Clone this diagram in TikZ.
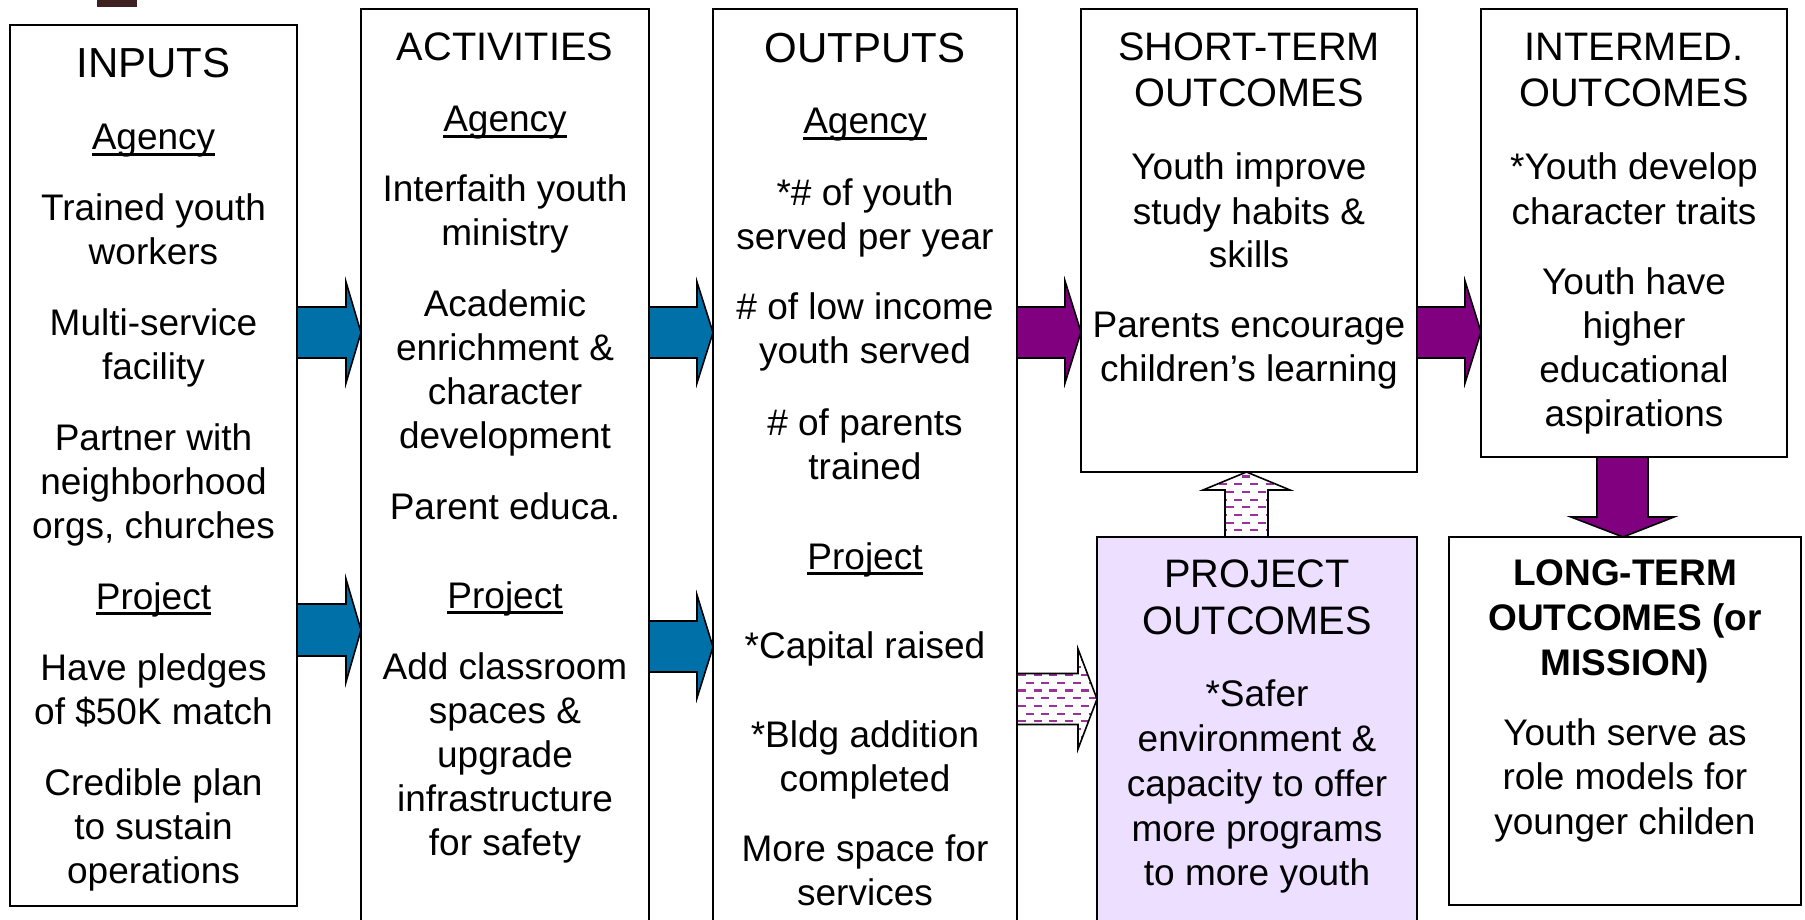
\documentclass[tikz,border=0pt]{standalone}
\usepackage{fontspec}
\setmainfont{Liberation Sans}
\usetikzlibrary{fit}
\definecolor{arrblue}{RGB}{0,112,168}
\definecolor{arrpurple}{RGB}{128,0,128}
\definecolor{dashpurple}{RGB}{153,51,153}
\definecolor{lavender}{RGB}{237,223,255}
\definecolor{darkbrown}{RGB}{62,32,32}
\newcommand\ulw[1]{\setbox0\hbox{#1}\rlap{\rule[-4.2pt]{\wd0}{1.6pt}}\box0}
\tikzset{
  box/.style={draw=black, line width=1.2pt, fill=white, inner sep=0pt, outer sep=0pt},
  body/.style={anchor=base, inner sep=0pt, font=\fontsize{27.75pt}{33.2pt}\selectfont},
  ttlbig/.style={anchor=base, inner sep=0pt, font=\fontsize{31.5pt}{37pt}\selectfont},
  ttl/.style={anchor=base, inner sep=0pt, font=\fontsize{29.8pt}{36pt}\selectfont},
  bttl/.style={anchor=base, inner sep=0pt, font=\fontsize{27.75pt}{33.2pt}\selectfont\bfseries},
  barrow/.style={fill=arrblue, draw=black, line width=1.2pt, line join=miter},
  parrow/.style={fill=arrpurple, draw=black, line width=1.2pt, line join=miter},
  darrow/.style={draw=black, line width=1.2pt, line join=miter},
  dashrow/.style={draw=dashpurple, line width=1.6pt, dash pattern=on 6pt off 5.8pt}
}
\begin{document}
\begin{tikzpicture}[x=0.75pt,y=-0.75pt]
\useasboundingbox (0,0) rectangle (1805,920);
\clip (0,0) rectangle (1805,920);

% small dark mark at top
\fill[darkbrown] (97,-2) rectangle (137,7);

% boxes
\node[box, fit={(10,25)(297,906)}] (inp) {};
\node[box, fit={(361,9)(649,935)}] (act) {};
\node[box, fit={(713,9)(1017,935)}] (out) {};
\node[box, fit={(1081,9)(1417,472)}] (st) {};
\node[box, fit={(1481,9)(1787,457)}] (im) {};
\node[box, fill=lavender, fit={(1097,537)(1417,935)}] (po) {};
\node[box, fit={(1449,537)(1801,905)}] (lt) {};

% INPUTS
\node[ttlbig] (inpT) at (153.5,78) {INPUTS};
\foreach \y/\t [count=\i] in {150/{\ulw{Agency}}, 220/{Trained youth}, 264/{workers},
  335/{Multi-service}, 379/{facility}, 450/{Partner with}, 494/{neighborhood},
  538/{orgs, churches}, 609/{\ulw{Project}}, 680/{Have pledges}, 724/{of \$50K match},
  795/{Credible plan}, 839/{to sustain}, 883/{operations}}
  \node[body] (inp\i) at (153.5,\y) {\t};

% ACTIVITIES
\node[ttl] (actT) at (505,61) {ACTIVITIES};
\foreach \y/\t [count=\i] in {132/{\ulw{Agency}}, 201/{Interfaith youth}, 245/{ministry},
  316/{Academic}, 360/{enrichment \&}, 404/{character}, 448/{development},
  519/{Parent educa.}, 608/{\ulw{Project}}, 679/{Add classroom}, 723/{spaces \&},
  767/{upgrade}, 811/{infrastructure}, 855/{for safety}}
  \node[body] (act\i) at (505,\y) {\t};

% OUTPUTS
\node[ttlbig] (outT) at (865,63) {OUTPUTS};
\foreach \y/\t [count=\i] in {134/{\ulw{Agency}}, 205/{*\# of youth}, 249/{served per year},
  319/{\# of low income}, 363/{youth served}, 435/{\# of parents}, 479/{trained},
  569/{\ulw{Project}}, 658/{*Capital raised}, 747/{*Bldg addition}, 791/{completed},
  861/{More space for}, 905/{services}}
  \node[body] (out\i) at (865,\y) {\t};

% SHORT-TERM OUTCOMES
\node[ttl] (stT1) at (1249,61) {SHORT-TERM};
\node[ttl] (stT2) at (1249,107) {OUTCOMES};
\foreach \y/\t [count=\i] in {180/{Youth improve}, 224/{study habits \&}, 267/{skills},
  337/{Parents encourage}, 381/{children’s learning}}
  \node[body] (st\i) at (1249,\y) {\t};

% INTERMED. OUTCOMES
\node[ttl] (imT1) at (1634,61) {INTERMED.};
\node[ttl] (imT2) at (1634,107) {OUTCOMES};
\foreach \y/\t [count=\i] in {180/{*Youth develop}, 224/{character traits},
  294/{Youth have}, 338/{higher}, 382/{educational}, 426/{aspirations}}
  \node[body] (im\i) at (1634,\y) {\t};

% PROJECT OUTCOMES
\node[ttl] (poT1) at (1257,587) {PROJECT};
\node[ttl] (poT2) at (1257,634) {OUTCOMES};
\foreach \y/\t [count=\i] in {706/{*Safer}, 751/{environment \&}, 796/{capacity to offer},
  841/{more programs}, 885/{to more youth}}
  \node[body] (po\i) at (1257,\y) {\t};

% LONG-TERM OUTCOMES
\node[bttl] (ltT1) at (1625,585) {LONG-TERM};
\node[bttl] (ltT2) at (1625,630) {OUTCOMES (or};
\node[bttl] (ltT3) at (1625,675) {MISSION)};
\foreach \y/\t [count=\i] in {745/{Youth serve as}, 789/{role models for}, 834/{younger childen}}
  \node[body] (lt\i) at (1625,\y) {\t};

% blue block arrows
\draw[barrow] (inp.east |- 0,307) -- (346,307) -- (346,282) -- (act.west |- 0,332.5)
  -- (346,383) -- (346,358) -- (inp.east |- 0,358) -- cycle;
\draw[barrow] (inp.east |- 0,604) -- (346,604) -- (346,579) -- (act.west |- 0,630)
  -- (346,682) -- (346,656) -- (inp.east |- 0,656) -- cycle;
\draw[barrow] (act.east |- 0,307) -- (697,307) -- (697,282) -- (out.west |- 0,332.5)
  -- (697,383) -- (697,358) -- (act.east |- 0,358) -- cycle;
\draw[barrow] (act.east |- 0,621) -- (697,621) -- (697,595) -- (out.west |- 0,647)
  -- (697,698) -- (697,672) -- (act.east |- 0,672) -- cycle;

% purple block arrows
\draw[parrow] (out.east |- 0,307) -- (1065,307) -- (1065,281) -- (st.west |- 0,332)
  -- (1065,383) -- (1065,358) -- (out.east |- 0,358) -- cycle;
\draw[parrow] (st.east |- 0,307) -- (1465,307) -- (1465,281) -- (im.west |- 0,332)
  -- (1465,383) -- (1465,358) -- (st.east |- 0,358) -- cycle;
\draw[parrow] (1597,0 |- im.south) -- (1597,517) -- (1571,517) -- (1623,0 |- lt.north)
  -- (1674,517) -- (1648,517) -- (1648,0 |- im.south) -- cycle;

% dashed-pattern arrow: outputs -> project outcomes
\begin{scope}
  \clip (out.east |- 0,673.5) -- (1078,673.5) -- (1078,649) -- (po.west |- 0,699)
    -- (1078,749) -- (1078,724.5) -- (out.east |- 0,724.5) -- cycle;
  \fill[white] (1000,640) rectangle (1110,760);
  \foreach \k in {0,...,13}{
    \pgfmathsetmacro\yy{652+7.7*\k}
    \pgfmathsetmacro\ph{mod(\k,2)*5.9}
    \draw[dashrow, dash phase=\ph pt] (1010,\yy) -- (1110,\yy);
  }
\end{scope}
\draw[darrow] (out.east |- 0,673.5) -- (1078,673.5) -- (1078,649) -- (po.west |- 0,699)
  -- (1078,749) -- (1078,724.5) -- (out.east |- 0,724.5) -- cycle;

% dashed-pattern arrow: project outcomes -> short-term outcomes
\begin{scope}
  \clip (1225,0 |- po.north) -- (1225,490) -- (1203,490) -- (1246.5,0 |- st.south)
    -- (1290,490) -- (1268,490) -- (1268,0 |- po.north) -- cycle;
  \fill[white] (1195,465) rectangle (1300,545);
  \foreach \k in {0,...,9}{
    \pgfmathsetmacro\yy{476.5+7.7*\k}
    \pgfmathsetmacro\ph{mod(\k,2)*5.9}
    \draw[dashrow, dash phase=\ph pt] (1195,\yy) -- (1300,\yy);
  }
\end{scope}
\draw[darrow] (1225,0 |- po.north) -- (1225,490) -- (1203,490) -- (1246.5,0 |- st.south)
  -- (1290,490) -- (1268,490) -- (1268,0 |- po.north) -- cycle;
\end{tikzpicture}
\end{document}
